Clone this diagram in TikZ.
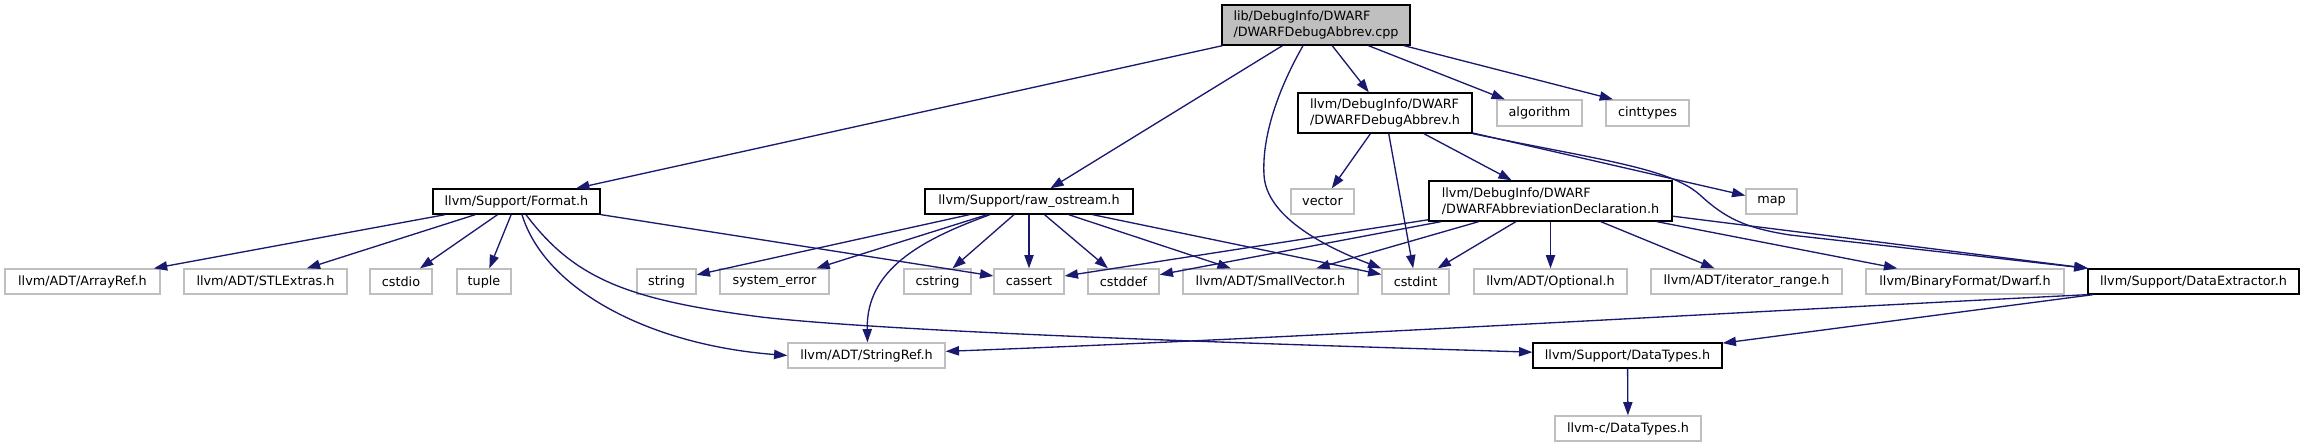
\documentclass[tikz,border=0pt]{standalone}
\usepackage{fontspec}
\setmainfont{DejaVu Sans}
\usetikzlibrary{arrows.meta}
\definecolor{grey75}{HTML}{BFBFBF}
\definecolor{midnight}{HTML}{191970}
\tikzset{
  base/.style={rectangle, inner sep=0pt, font=\fontsize{12.8}{15.5}\selectfont, text=black, line width=1.33pt, align=left},
  doc/.style={base, draw=black, fill=white},
  ext/.style={base, draw=grey75, fill=white},
  rootnode/.style={base, draw=black, fill=grey75},
  dep/.style={draw=midnight, line width=1.33pt, -{Triangle[length=13.3pt,width=9.3pt]}},
  sz/.style 2 args={minimum width=#1pt, minimum height=#2pt}
}
\begin{document}
\begin{tikzpicture}[x=1pt,y=-1pt]
\useasboundingbox (0,0) rectangle (2304,447);
% nodes
\node[rootnode, sz={188}{40}] (root) at (1316,25) {lib/DebugInfo/DWARF\\/DWARFDebugAbbrev.cpp};
\node[doc, sz={174}{40}] (dab) at (1385,113) {llvm/DebugInfo/DWARF\\/DWARFDebugAbbrev.h};
\node[ext, sz={85}{26}] (algorithm) at (1539.5,113) {algorithm};
\node[ext, sz={83}{26}] (cinttypes) at (1647.5,113) {cinttypes};
\node[doc, sz={167}{25}] (format) at (516.5,201.5) {llvm/Support/Format.h};
\node[doc, sz={208}{25}] (raw) at (1029,201.5) {llvm/Support/raw\_ostream.h};
\node[ext, sz={63}{25}] (vector) at (1322.5,201.5) {vector};
\node[doc, sz={243}{40}] (decl) at (1550.5,201) {llvm/DebugInfo/DWARF\\/DWARFAbbreviationDeclaration.h};
\node[ext, sz={51}{25}] (map) at (1771.5,201.5) {map};
\node[ext, sz={155}{25}] (arrayref) at (82.5,281.5) {llvm/ADT/ArrayRef.h};
\node[ext, sz={163}{25}] (stlextras) at (265.5,281.5) {llvm/ADT/STLExtras.h};
\node[ext, sz={62}{25}] (cstdio) at (401,281.5) {cstdio};
\node[ext, sz={54}{25}] (tuple) at (484,281.5) {tuple};
\node[ext, sz={59}{25}] (string) at (666.5,281.5) {string};
\node[ext, sz={109}{25}] (syserr) at (774.5,281.5) {system\_error};
\node[ext, sz={67}{25}] (cstring) at (937.5,281.5) {cstring};
\node[ext, sz={70}{25}] (cassert) at (1029,281.5) {cassert};
\node[ext, sz={71}{25}] (cstddef) at (1123.5,281.5) {cstddef};
\node[ext, sz={175}{25}] (smallvec) at (1270.5,281.5) {llvm/ADT/SmallVector.h};
\node[ext, sz={67}{25}] (cstdint) at (1415.5,281.5) {cstdint};
\node[ext, sz={153}{25}] (optional) at (1550.5,281.5) {llvm/ADT/Optional.h};
\node[ext, sz={191}{25}] (iterrange) at (1746.5,281.5) {llvm/ADT/iterator\_range.h};
\node[ext, sz={198}{25}] (dwarf) at (1965,281.5) {llvm/BinaryFormat/Dwarf.h};
\node[doc, sz={211}{25}] (dataext) at (2193.5,281.5) {llvm/Support/DataExtractor.h};
\node[ext, sz={157}{25}] (stringref) at (866.5,355.5) {llvm/ADT/StringRef.h};
\node[doc, sz={189}{25}] (datatypes) at (1627.5,355.5) {llvm/Support/DataTypes.h};
\node[ext, sz={146}{25}] (cdatatypes) at (1628,428.5) {llvm-c/DataTypes.h};
% edges from root
\draw[dep] (root) -- (format);
\draw[dep] (root) -- (raw);
\draw[dep] ([xshift=-13pt]root.south) .. controls (1275,95) and (1262,140) .. (1264,175) .. controls (1266,215) and (1320,245) .. (cstdint.north west);
\draw[dep] (root) -- (dab);
\draw[dep] (root) -- (algorithm);
\draw[dep] ([xshift=88pt]root.south) -- ([xshift=-34.5pt]cinttypes.north);
% edges from DWARFDebugAbbrev.h
\draw[dep] (dab) -- (vector);
\draw[dep] (dab) -- (cstdint);
\draw[dep] (dab) -- (decl);
\draw[dep] (dab) -- (map);
\draw[dep] (dab.south east) .. controls (1600,160) and (1670,168) .. (1700,195) .. controls (1725,218) and (1745,228) .. (1790,235) -- (dataext.north west);
% edges from Format.h
\draw[dep] (format) -- (arrayref);
\draw[dep] (format) -- (stlextras);
\draw[dep] (format) -- (cstdio);
\draw[dep] (format) -- (tuple);
\draw[dep] ([xshift=5.5pt]format.south) .. controls (545,290) and (650,345) .. (stringref.west);
\draw[dep] ([xshift=9.5pt]format.south) .. controls (575,280) and (630,300) .. (761,317) .. controls (900,333) and (1300,345) .. (datatypes.178);
\draw[dep] (format) -- (cassert);
% edges from raw_ostream.h
\draw[dep] (raw) -- (string);
\draw[dep] (raw) -- (syserr);
\draw[dep] ([xshift=-39pt]raw.south) .. controls (920,240) and (866,270) .. ([xshift=1pt]stringref.north);
\draw[dep] (raw) -- (cstring);
\draw[dep] (raw) -- (cassert);
\draw[dep] (raw) -- (cstddef);
\draw[dep] (raw) -- (smallvec);
\draw[dep] (raw) -- (cstdint);
% edges from DWARFAbbreviationDeclaration.h
\draw[dep] (decl) -- (cassert);
\draw[dep] (decl) -- (cstddef);
\draw[dep] (decl) -- (smallvec);
\draw[dep] (decl) -- (cstdint);
\draw[dep] (decl) -- (optional);
\draw[dep] (decl) -- (iterrange);
\draw[dep] (decl) -- (dwarf);
\draw[dep] (decl) -- (dataext);
% edges from DataExtractor.h
\draw[dep] (dataext.south west) .. controls (1700,314) and (1300,338) .. (stringref.3);
\draw[dep] (dataext) -- (datatypes);
% DataTypes.h
\draw[dep] (datatypes) -- (cdatatypes);
\end{tikzpicture}
\end{document}
